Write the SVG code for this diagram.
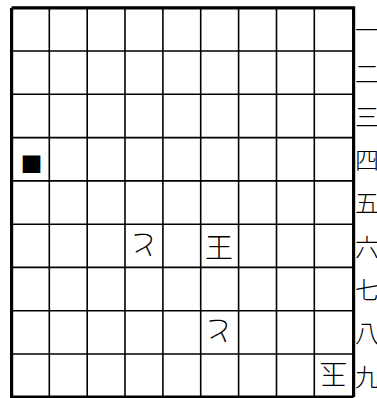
<svg xmlns="http://www.w3.org/2000/svg" width="377" height="398" viewBox="0 0 377 398">
<style>
.thin{stroke:#000;stroke-width:1.6;fill:none}
.thick{stroke:#000;stroke-width:3.2;fill:none}
.pc{font-family:"Noto Sans CJK JP","Noto Sans CJK SC",sans-serif;font-size:28px;font-weight:300;text-anchor:middle;dominant-baseline:central;fill:#000}
.lb{font-family:"Noto Sans CJK JP","Noto Sans CJK SC",sans-serif;font-size:24px;font-weight:300;text-anchor:start;dominant-baseline:central;fill:#000}
</style>
<rect width="377" height="398" fill="#fff"/>
<g id="grid">
<path class="thin" d="M49.3 7.7V397.3M87.2 7.7V397.3M125 7.7V397.3M162.9 7.7V397.3M200.7 7.7V397.3M238.6 7.7V397.3M276.5 7.7V397.3M314.3 7.7V397.3"/>
<path class="thin" d="M11.4 51H353M11.4 94.3H353M11.4 137.6H353M11.4 180.9H353M11.4 224.2H353M11.4 267.4H353M11.4 310.7H353M11.4 354H353"/>
<path class="thick" d="M11.6 7.9H353.6V397M11.6 7.9V398M11.6 397H353.6"/>
</g>
<g id="labels">
<text class="lb" x="355" y="28">一</text>
<text class="lb" x="355" y="72">二</text>
<text class="lb" x="355" y="115">三</text>
<text class="lb" x="355" y="158">四</text>
<text class="lb" x="355" y="201">五</text>
<text class="lb" x="355" y="245">六</text>
<text class="lb" x="355" y="288">七</text>
<text class="lb" x="355" y="331">八</text>
<text class="lb" x="355" y="375">九</text>
</g>
<g id="piece-square"><text class="pc" x="31.5" y="162" style="font-size:22px">■</text></g>
<g id="piece-to-1"><text class="pc" x="144" y="246" transform="rotate(180 144 246)">と</text></g>
<g id="piece-ou"><text class="pc" x="219" y="246">王</text></g>
<g id="piece-to-2"><text class="pc" x="219" y="332" transform="rotate(180 219 332)">と</text></g>
<g id="piece-gyoku"><text class="pc" x="333.5" y="376" transform="rotate(180 333.5 376)">玉</text></g>
</svg>
